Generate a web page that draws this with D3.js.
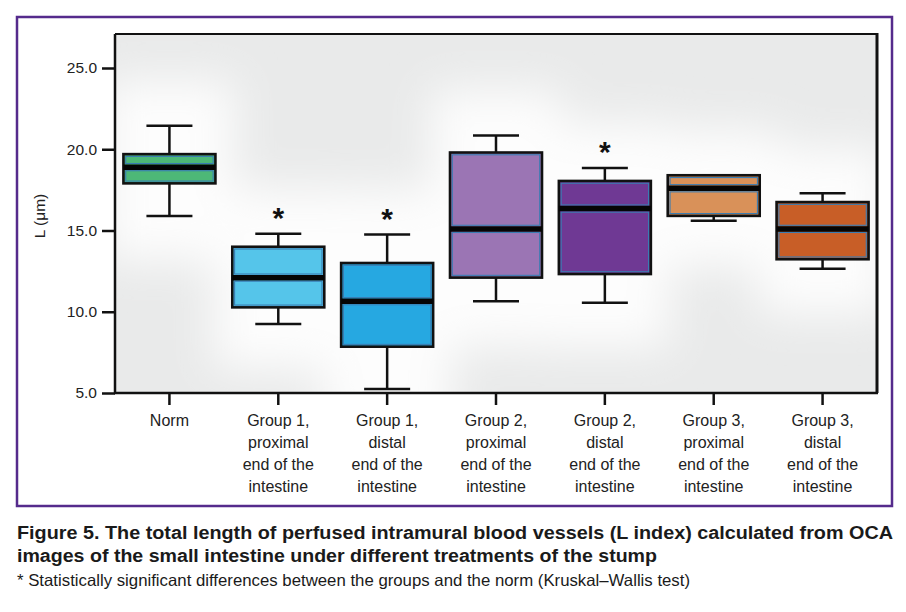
<!DOCTYPE html>
<html><head><meta charset="utf-8">
<script src="https://cdn.jsdelivr.net/npm/d3@7"></script>
<style>body{margin:0;background:#fff}svg{display:block}text{font-family:"Liberation Sans",Arial,sans-serif}</style>
</head><body><svg id="c" width="906" height="612"></svg>
<script>
const categories = [
  ["Norm"],
  ["Group 1,","proximal","end of the","intestine"],
  ["Group 1,","distal","end of the","intestine"],
  ["Group 2,","proximal","end of the","intestine"],
  ["Group 2,","distal","end of the","intestine"],
  ["Group 3,","proximal","end of the","intestine"],
  ["Group 3,","distal","end of the","intestine"]
];
const whiskerLow  = [15.9, 9.25, 5.25, 10.65, 10.55, 15.6, 12.65];
const q1          = [17.9, 10.27, 7.85, 12.1, 12.32, 15.9, 13.23];
const median      = [18.9, 12.1, 10.65, 15.1, 16.35, 17.6, 15.1];
const q3          = [19.7, 14.0, 13.0, 19.8, 18.05, 18.4, 16.75];
const whiskerHigh = [21.45, 14.8, 14.75, 20.85, 18.85, 18.4, 17.3];
const significant = [false, true, true, false, true, false, false];
const fills = ["#4db877","#55c5ea","#26a8e1","#9b75b4","#6f3994","#d99159","#c85e27"];
const yTicks = [5, 10, 15, 20, 25];

const svg = d3.select("#c");
const L = 115, R = 877, T = 34, B = 393;
const x = d3.scaleBand().domain(d3.range(categories.length)).range([L, R]).padding(0);
const y = d3.scaleLinear().domain([5, 25]).range([B, 68]);

// purple frame
svg.append("rect").attr("x",17).attr("y",17).attr("width",875).attr("height",489)
  .attr("fill","#fff").attr("stroke","#552b8c").attr("stroke-width",2.5);

// plot background with soft glow
const defs = svg.append("defs");
defs.append("filter").attr("id","blur").attr("x","-50%").attr("y","-50%").attr("width","200%").attr("height","200%")
  .append("feGaussianBlur").attr("stdDeviation",22);
defs.append("clipPath").attr("id","clip").append("rect").attr("x",L).attr("y",T).attr("width",R-L).attr("height",B-T);
const bg = svg.append("g").attr("clip-path","url(#clip)");
bg.append("rect").attr("x",L).attr("y",T).attr("width",R-L).attr("height",B-T).attr("fill","#e9eaea");
bg.append("g").attr("filter","url(#blur)").selectAll("rect").data(categories).join("rect")
  .attr("x",(d,i)=>x(i)-10).attr("width",x.bandwidth()+20)
  .attr("y",(d,i)=>y(whiskerHigh[i])-45)
  .attr("height",(d,i)=>y(whiskerLow[i])-y(whiskerHigh[i])+90)
  .attr("fill","#fdfdfd");

// axes lines
svg.append("line").attr("x1",L).attr("x2",R).attr("y1",T).attr("y2",T).attr("stroke","#111").attr("stroke-width",2);
svg.append("line").attr("x1",R).attr("x2",R).attr("y1",T-1).attr("y2",B).attr("stroke","#111").attr("stroke-width",3);

const yAxis = svg.append("g").attr("transform",`translate(${L},0)`)
  .call(d3.axisLeft(y).tickValues(yTicks).tickFormat(d3.format(".1f")).tickSize(13).tickPadding(5));
yAxis.select(".domain").attr("d",`M0,${B}V${T}`).attr("stroke","#111").attr("stroke-width",2.5);
yAxis.selectAll(".tick line").attr("stroke","#111").attr("stroke-width",2.5);
yAxis.selectAll(".tick text").attr("font-size",15.5).attr("fill","#222").attr("font-family","Liberation Sans, Arial, sans-serif");

const xAxis = svg.append("g").attr("transform",`translate(0,${B})`)
  .call(d3.axisBottom(x).tickSize(12).tickFormat(""));
xAxis.select(".domain").attr("d",`M${L-1},0H${R+1}`).attr("stroke","#111").attr("stroke-width",2.5);
xAxis.selectAll(".tick line").attr("stroke","#111").attr("stroke-width",2.5);

// category labels
const lab = svg.append("g");
categories.forEach((lines,i)=>{
  const t = lab.append("text").attr("text-anchor","middle").attr("font-size",16).attr("fill","#222");
  lines.forEach((s,k)=>t.append("tspan").attr("x",x(i)+x.bandwidth()/2).attr("y",426+k*22).text(s));
});

// y label
svg.append("text").attr("transform","translate(45,216) rotate(-90)").attr("text-anchor","middle")
  .attr("font-size",15.5).attr("fill","#222").text("L (μm)");

// boxes
const bw = 92, cap = 46;
const g = svg.append("g");
categories.forEach((c,i)=>{
  const cx = x(i)+x.bandwidth()/2;
  const gg = g.append("g");
  gg.append("line").attr("x1",cx).attr("x2",cx).attr("y1",y(whiskerHigh[i])).attr("y2",y(q3[i])).attr("stroke","#111").attr("stroke-width",2.5);
  gg.append("line").attr("x1",cx).attr("x2",cx).attr("y1",y(q1[i])).attr("y2",y(whiskerLow[i])).attr("stroke","#111").attr("stroke-width",2.5);
  gg.append("line").attr("x1",cx-cap/2).attr("x2",cx+cap/2).attr("y1",y(whiskerHigh[i])).attr("y2",y(whiskerHigh[i])).attr("stroke","#111").attr("stroke-width",2.5);
  gg.append("line").attr("x1",cx-cap/2).attr("x2",cx+cap/2).attr("y1",y(whiskerLow[i])).attr("y2",y(whiskerLow[i])).attr("stroke","#111").attr("stroke-width",2.5);
  gg.append("rect").attr("x",cx-bw/2).attr("width",bw).attr("y",y(q3[i])).attr("height",y(q1[i])-y(q3[i]))
    .attr("fill",fills[i]);
  // inner blue outlines of each half
  const ins = 2.3, mg = 3.6;
  [[y(q3[i])+ins, y(median[i])-mg],[y(median[i])+mg, y(q1[i])-ins]].forEach(([a,b])=>{
    if (b-a > 1) gg.append("rect").attr("x",cx-bw/2+ins).attr("width",bw-2*ins).attr("y",a).attr("height",b-a)
      .attr("fill","none").attr("stroke","#3a7db3").attr("stroke-width",1.1);
  });
  gg.append("rect").attr("x",cx-bw/2).attr("width",bw).attr("y",y(q3[i])).attr("height",y(q1[i])-y(q3[i]))
    .attr("fill","none").attr("stroke","#111").attr("stroke-width",2.6);
  gg.append("line").attr("x1",cx-bw/2).attr("x2",cx+bw/2).attr("y1",y(median[i])).attr("y2",y(median[i])).attr("stroke","#050505").attr("stroke-width",5.5);
  if(significant[i]) gg.append("text").attr("x",cx).attr("y",y(whiskerHigh[i])-6).attr("text-anchor","middle")
    .attr("font-size",30).attr("font-weight","bold").attr("fill","#111").text("*");
});

// caption
const cap1 = "Figure 5. The total length of perfused intramural blood vessels (L index) calculated from OCA";
const cap2 = "images of the small intestine under different treatments of the stump";
const cap3 = "* Statistically significant differences between the groups and the norm (Kruskal\u2013Wallis test)";
svg.append("text").attr("x",17).attr("y",539).attr("font-size",18).attr("font-weight","bold").attr("fill","#1a1a1a")
  .attr("textLength",876).attr("lengthAdjust","spacingAndGlyphs").text(cap1);
svg.append("text").attr("x",17).attr("y",562).attr("font-size",18).attr("font-weight","bold").attr("fill","#1a1a1a")
  .attr("textLength",640).attr("lengthAdjust","spacingAndGlyphs").text(cap2);
svg.append("text").attr("x",17).attr("y",586).attr("font-size",16.5).attr("fill","#1a1a1a")
  .attr("textLength",673).attr("lengthAdjust","spacingAndGlyphs").text(cap3);
</script></body></html>
